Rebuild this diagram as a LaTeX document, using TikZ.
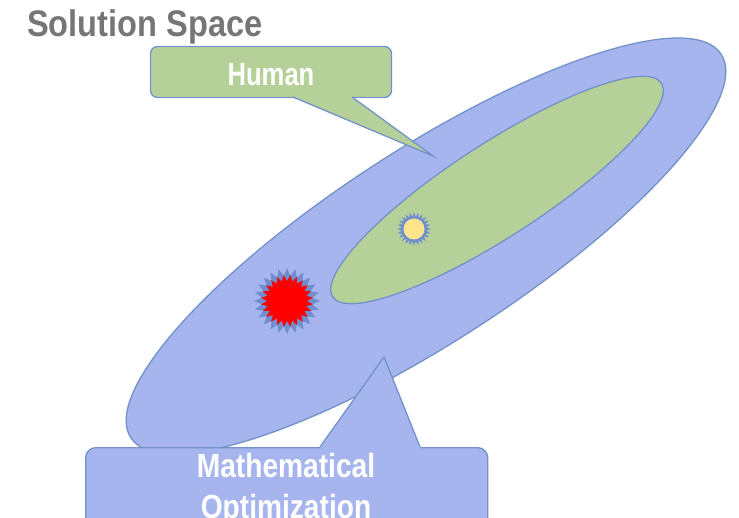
\documentclass[tikz,border=0pt]{standalone}
\usepackage{fontspec}
\usetikzlibrary{shapes.geometric}
\newfontfamily\titlefont{Liberation Sans}[FakeStretch=0.88]
\newfontfamily\humanfont{Liberation Sans}[FakeStretch=0.80]
\newfontfamily\mathfont{Liberation Sans}[FakeStretch=0.84]
\definecolor{bluefill}{RGB}{166,181,238}
\definecolor{greenfill}{RGB}{181,209,153}
\definecolor{edgeblue}{RGB}{114,146,201}
\definecolor{titlegray}{RGB}{118,118,118}
\definecolor{sunyellow}{RGB}{255,228,140}
\definecolor{spikeblue}{RGB}{112,142,206}
\begin{document}
\begin{tikzpicture}[x=1pt,y=-1pt,
  region/.style={draw=edgeblue,line width=1.3pt},
  callbox/.style={draw=edgeblue,line width=1.3pt,rectangle,inner sep=0pt},
  pointer/.style={draw=edgeblue,line width=1.3pt,line join=miter},
  spikes/.style={star,star points=24,inner sep=0pt,draw=none},
  labeltext/.style={text=white,inner sep=0pt}
]
\clip (0,0) rectangle (739,518);
\fill[white] (0,0) rectangle (739,518);

% title
\node[anchor=base west,text=titlegray,inner sep=0pt,font=\titlefont\bfseries\fontsize{37}{40}\selectfont] (title) at (27,37) {Solution Space};

% solution space regions
\draw[region,fill=bluefill,shift={(426,246)},rotate=33] (0,0) ellipse [x radius=352,y radius=96];
\draw[region,fill=greenfill,shift={(497,190)},rotate=33] (0,0) ellipse [x radius=196,y radius=46.5];

% stars
\node[spikes,fill=spikeblue,minimum size=66pt,star point ratio=1.3] (mathstarbg) at (287,301) {};
\node[spikes,fill=red,minimum size=52pt,star point ratio=1.3,shape border rotate=7.5] (mathstar) at (287,301) {};
\node[spikes,fill=spikeblue,minimum size=34pt,star point ratio=1.4] (humanstarbg) at (414,229) {};
\node[circle,fill=sunyellow,inner sep=0pt,minimum size=21pt] (humanstar) at (414,229) {};

% Human callout
\node[callbox,fill=greenfill,rounded corners=7pt,minimum width=241pt,minimum height=51pt] (hbox) at (271,72) {};
\coordinate (hb1) at (293,97);
\coordinate (hb2) at (352,97);
\coordinate (htip) at (433,156);
\fill[greenfill] ([yshift=2pt]hb1) -- (hb1) -- (htip) -- (hb2) -- ([yshift=2pt]hb2) -- cycle;
\draw[pointer] (hb1) -- (htip) -- (hb2);
\node[labeltext,anchor=base,font=\humanfont\bfseries\fontsize{32}{36}\selectfont] (htext) at (271,86) {Human};

% Mathematical Optimization callout
\node[callbox,fill=bluefill,rounded corners=10pt,minimum width=402pt,minimum height=100pt,anchor=north west] (mbox) at (85,447) {};
\coordinate (mb1) at (320,447);
\coordinate (mb2) at (420,447);
\coordinate (mtip) at (384,357);
\fill[bluefill] ([yshift=-2pt]mb1) -- (mb1) -- (mtip) -- (mb2) -- ([yshift=-2pt]mb2) -- cycle;
\draw[pointer] (mb1) -- (mtip) -- (mb2);
\node[labeltext,anchor=base,font=\mathfont\bfseries\fontsize{33.5}{36}\selectfont] (mtext1) at (286,477) {Mathematical};
\node[labeltext,anchor=base,font=\mathfont\bfseries\fontsize{33.5}{36}\selectfont] (mtext2) at (286,518) {Optimization};
\end{tikzpicture}
\end{document}
